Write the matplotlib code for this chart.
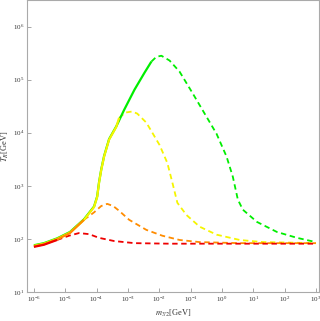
import numpy as np
import matplotlib
matplotlib.use("Agg")
import matplotlib.pyplot as plt

plt.rcParams['font.family'] = ['Liberation Serif', 'DejaVu Serif']
plt.rcParams['mathtext.fontset'] = 'stix'

# curves given as log10(m_3/2 / GeV), log10(T_R / GeV); solid up to index `cut`
red_lx = [-6.00, -5.68, -5.26, -4.88, -4.56, -4.24, -3.92, -3.44, -2.79, -1.67, 3.0]
red_ly = [1.85, 1.89, 1.98, 2.06, 2.11, 2.09, 2.02, 1.96, 1.92, 1.91, 1.91]
red_cut = 2

orange_lx = [-6.00, -5.68, -5.26, -4.85, -4.40, -4.08, -3.85, -3.66, -3.47, -3.28,
             -2.96, -2.41, -1.90, -1.35, -0.71, 0.57, 3.0]
orange_ly = [1.86, 1.90, 1.99, 2.11, 2.36, 2.50, 2.62, 2.66, 2.62, 2.53,
             2.36, 2.17, 2.06, 1.98, 1.94, 1.92, 1.92]
orange_cut = 4

yellow_lx = [-6.00, -5.68, -5.26, -4.85, -4.40, -4.08, -3.98, -3.92, -3.85, -3.76,
             -3.60, -3.37, -3.28, -3.08, -2.86, -2.70, -2.41, -1.99, -1.74, -1.58,
             -1.42, -1.13, -0.71, -0.17, 0.57, 1.31, 3.0]
yellow_ly = [1.87, 1.91, 2.00, 2.12, 2.36, 2.60, 2.79, 3.06, 3.30, 3.55,
             3.87, 4.11, 4.28, 4.38, 4.40, 4.36, 4.19, 3.77, 3.43, 3.06,
             2.68, 2.45, 2.23, 2.08, 1.98, 1.94, 1.92]
yellow_cut = 12

green_lx = [-6.00, -5.68, -5.26, -4.85, -4.40, -4.08, -3.98, -3.92, -3.85, -3.76,
            -3.60, -3.37, -3.12, -2.79, -2.47, -2.25, -2.09, -1.93, -1.67, -1.35,
            -0.94, -0.49, -0.17, 0.15, 0.35, 0.51, 0.67, 1.12, 1.76, 2.40, 3.0]
green_ly = [1.88, 1.92, 2.01, 2.13, 2.37, 2.61, 2.80, 3.07, 3.31, 3.56,
            3.88, 4.12, 4.43, 4.81, 5.13, 5.34, 5.43, 5.45, 5.36, 5.15,
            4.75, 4.30, 3.98, 3.55, 3.17, 2.74, 2.55, 2.32, 2.13, 2.02, 1.94]
green_cut = 15

curves = [
    (green_lx, green_ly, green_cut, '#00ee00'),
    (yellow_lx, yellow_ly, yellow_cut, '#f5f500'),
    (orange_lx, orange_ly, orange_cut, '#ff8c00'),
    (red_lx, red_ly, red_cut, '#ee0000'),
]

fig = plt.figure(figsize=(3.2, 3.21), dpi=100)
ax = fig.add_axes([27 / 320, 29 / 321, 292 / 320, 292 / 321])

for lx, ly, cut, col in curves:
    x = 10 ** np.array(lx)
    y = 10 ** np.array(ly)
    ax.plot(x[cut:], y[cut:], color=col, lw=1.3, ls=(0, (3, 2)))
for lx, ly, cut, col in curves:
    x = 10 ** np.array(lx)
    y = 10 ** np.array(ly)
    ax.plot(x[:cut + 1], y[:cut + 1], color=col, lw=1.6, solid_capstyle='butt')

ax.set_xscale('log')
ax.set_yscale('log')
ax.set_xlim(10 ** -6.22, 10 ** 3.1)
ax.set_ylim(10, 10 ** 6.5)
ax.set_xticks([10.0 ** k for k in range(-6, 4)])
ax.set_yticks([10.0 ** k for k in range(1, 7)])
ax.minorticks_off()
ax.tick_params(direction='in', length=3, width=0.6, color='#999999',
               labelsize=5, pad=2, labelcolor='#333333')
for sp in ax.spines.values():
    sp.set_color('#aaaaaa')
    sp.set_linewidth(0.8)

ax.set_xlabel(r'$m_{3/2}$[GeV]', fontsize=6, color='#333333', labelpad=3)
ax.set_ylabel(r'$T_R$[GeV]', fontsize=6, color='#333333', labelpad=1)

fig.savefig('out.png', dpi=100)
